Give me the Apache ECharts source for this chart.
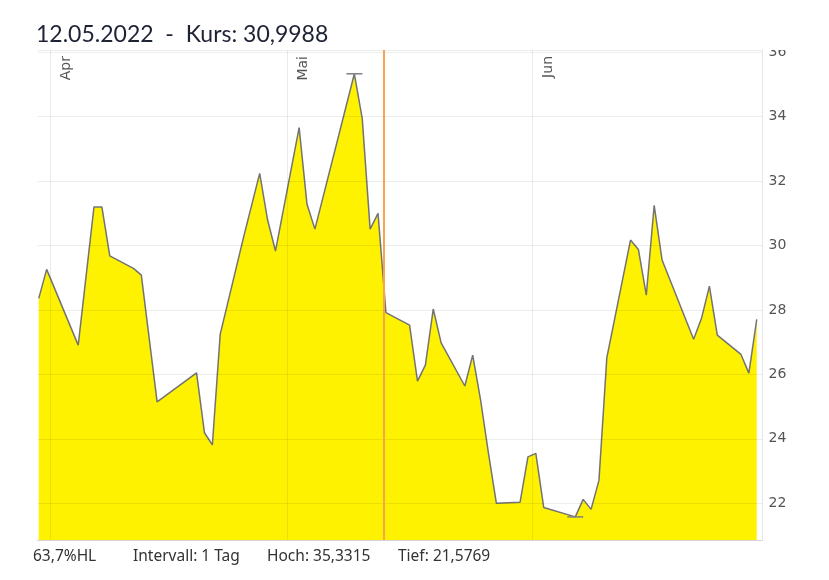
<!DOCTYPE html>
<html><head><meta charset="utf-8">
<script src="https://cdn.jsdelivr.net/npm/echarts@6/dist/echarts.min.js"></script>
<style>html,body{margin:0;padding:0;background:#fff}#c{width:829px;height:580px}</style>
</head><body><div id="c"></div>
<script>
// ---- data ----
const dates = ['2022-03-30','2022-03-31','2022-04-04','2022-04-06','2022-04-07','2022-04-08','2022-04-11','2022-04-12','2022-04-14','2022-04-19','2022-04-20','2022-04-21','2022-04-22','2022-04-25','2022-04-27','2022-04-28','2022-04-29','2022-05-02','2022-05-03','2022-05-04','2022-05-09','2022-05-10','2022-05-11','2022-05-12','2022-05-13','2022-05-16','2022-05-17','2022-05-18','2022-05-19','2022-05-20','2022-05-23','2022-05-24','2022-05-25','2022-05-26','2022-05-27','2022-05-30','2022-05-31','2022-06-01','2022-06-02','2022-06-06','2022-06-07','2022-06-08','2022-06-09','2022-06-10','2022-06-13','2022-06-14','2022-06-15','2022-06-16','2022-06-17','2022-06-21','2022-06-22','2022-06-23','2022-06-24','2022-06-27','2022-06-28','2022-06-29'];
const prices = [28.36,29.26,26.91,31.2,31.2,29.68,29.29,29.08,25.15,26.05,24.19,23.81,27.25,30.3,32.24,30.8,29.83,33.66,31.28,30.51,35.3315,33.94,30.51,30.9988,27.92,27.53,25.79,26.29,28.03,26.98,25.64,26.6,25.2,23.55,22.0,22.03,23.44,23.55,21.87,21.5769,22.12,21.81,22.71,26.52,30.17,29.88,28.46,31.25,29.55,27.09,27.74,28.74,27.22,26.62,26.04,27.71];
const quoteTime = 'T12:00';
const monthTicks = ['2022-04-01T00:00','2022-05-01T00:00','2022-06-01T00:00'];
const monthLabels = ['Apr','Mai','Jun'];
const cursorTime = '2022-05-13T04:00';
const xRange = ['2022-03-30T08:10','2022-06-30T05:30'];
const yRange = [20.86, 36.07];
const titleText = '12.05.2022  -  Kurs: 30,9988';
const footerTexts = ['63,7%HL','Intervall: 1 Tag','Hoch: 35,3315','Tief: 21,5769'];
// ---- chart ----
const footerX = [33, 133, 267, 398];
const chart = echarts.init(document.getElementById('c'), null, {renderer:'canvas'});
const lineData = dates.map((d,i)=>[d+quoteTime, prices[i]]);
const option = {
  animation:false,
  backgroundColor:'#fff',
  grid:{left:37.5, right:66.5, top:50, bottom:40},
  xAxis:{type:'time', min:xRange[0], max:xRange[1],
    axisLine:{show:true, lineStyle:{color:'#e6e6e6'}}, axisTick:{show:false},
    axisLabel:{show:false}, splitLine:{show:false}},
  yAxis:{type:'value', position:'right', min:yRange[0], max:yRange[1], splitNumber:7, z:5,
    axisLine:{show:true, lineStyle:{color:'#e6e6e6'}}, axisTick:{show:false},
    axisLabel:{color:'#555', fontFamily:'DejaVu Sans', fontSize:14, margin:6, showMinLabel:false, showMaxLabel:false},
    splitLine:{show:true, lineStyle:{color:'rgba(0,0,0,0.07)', width:1}}},
  graphic:[
    {type:'text', left:36, top:23, z:100, style:{text:titleText, font:'23px Lato', fill:'#1e2235'}},
    ...footerTexts.map((t,i)=>({type:'text', x:footerX[i], y:556.5, z:100, style:{text:t, font:'15.5px "Noto Sans"', fill:'#333', textVerticalAlign:'middle'}})),
    {type:'rect', shape:{x:764, y:0, width:65, height:50}, style:{fill:'#fff'}, z:100}
  ],
  series:[{
    type:'line', data:lineData, showSymbol:false, symbol:'none',
    lineStyle:{color:'#737373', width:1.5},
    areaStyle:{color:'#FFF200', opacity:1},
    markPoint:{symbol:'rect', symbolSize:[16,1.5], silent:true,
      itemStyle:{color:'#808080'}, label:{show:false},
      data:[{type:'max'},{type:'min'}]},
    markLine:{silent:true, symbol:'none', animation:false,
      data:[
        ...monthTicks.map((d,i)=>({xAxis:d, name:monthLabels[i],
          lineStyle:{color:'rgba(0,0,0,0.08)', width:1, type:'solid'},
          label:{show:true, formatter:'{b}', position:'insideEndBottom', distance:[6,9], color:'#555', fontFamily:'DejaVu Sans', fontSize:14}})),
        {xAxis:cursorTime, lineStyle:{color:'#F9A44A', width:2, type:'solid'}, label:{show:false}}
      ]}
  }]
};
chart.setOption(option);
</script></body></html>
